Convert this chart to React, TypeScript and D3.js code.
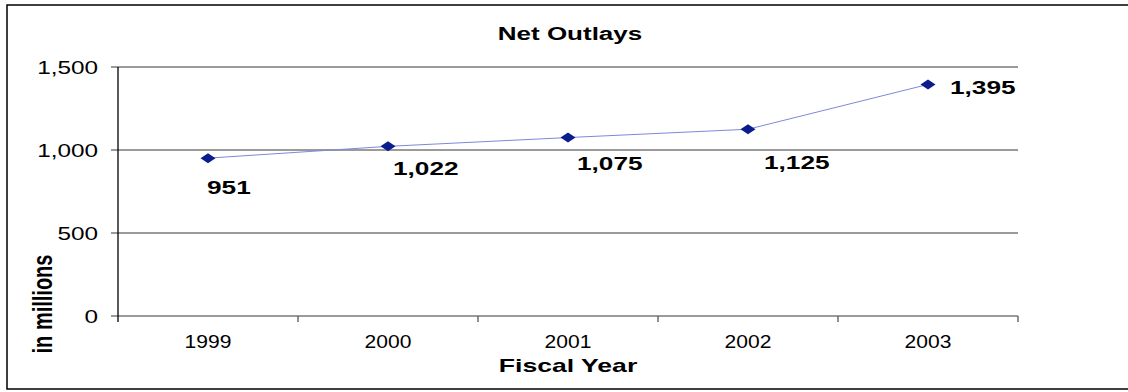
import React from "react";
import * as d3 from "d3";

// Net outlays by fiscal year, in millions
const years = ["1999", "2000", "2001", "2002", "2003"];
const outlays = [951, 1022, 1075, 1125, 1395];
const yTicks = [0, 500, 1000, 1500];

const chartTitle = "Net Outlays";
const xTitle = "Fiscal Year";
const yTitle = "in millions";

// Layout
const W = 1128;
const H = 392;
const plot = { left: 118, right: 1018, top: 67, bottom: 316 };
const FONT = "Arial, 'Liberation Sans', Helvetica, sans-serif";
const markerColor = "#0b1c8c";
const lineColor = "#7f88d8";

// Where each value label sits relative to its marker (dx to left edge, dy to baseline)
const labelOffsets: [number, number][] = [
  [-1, 36],
  [5, 29],
  [9, 32],
  [16, 40],
  [22, 10],
];

type TProps = {
  x: number;
  y: number;
  sx: number;
  size: number;
  bold?: boolean;
  anchor?: "start" | "middle" | "end";
  rotate?: number;
  children: React.ReactNode;
};

// Text drawn with a horizontal stretch around its anchor point
function SText({ x, y, sx, size, bold, anchor = "start", rotate = 0, children }: TProps) {
  return (
    <text
      transform={`translate(${x},${y}) scale(${sx},1) rotate(${rotate})`}
      fontFamily={FONT}
      fontSize={size}
      fontWeight={bold ? "bold" : "normal"}
      textAnchor={anchor}
      fill="#000"
    >
      {children}
    </text>
  );
}

export default function App() {
  const x = d3.scaleBand<string>().domain(years).range([plot.left, plot.right]).padding(0);
  const y = d3.scaleLinear().domain([0, 1500]).range([plot.bottom, plot.top]);
  const cx = (yr: string) => (x(yr) as number) + x.bandwidth() / 2;
  const fmt = d3.format(",");

  const pts = years.map((yr, i) => ({ yr, v: outlays[i] }));
  const line = d3
    .line<{ yr: string; v: number }>()
    .x((d) => cx(d.yr))
    .y((d) => y(d.v));

  const boundaries = years.map((yr) => x(yr) as number).concat([plot.right]);

  return (
    <svg
      width={W}
      height={H}
      style={{ position: "absolute", left: 0, top: 0, background: "#fff" }}
    >
      <rect x={0} y={0} width={W} height={H} fill="#fff" />
      {/* chart frame */}
      <rect x={7} y={5} width={W + 10} height={384} fill="none" stroke="#000" strokeWidth={1.5} />

      <SText x={570} y={40} sx={1.37} size={19} bold anchor="middle">
        {chartTitle}
      </SText>

      {/* horizontal gridlines with their tick marks */}
      {yTicks.map((t) => (
        <line
          key={t}
          x1={plot.left - 7}
          x2={plot.right}
          y1={y(t)}
          y2={y(t)}
          stroke="#7a7a7a"
          strokeWidth={1.3}
        />
      ))}
      {yTicks.map((t) => (
        <SText key={t} x={98} y={y(t) + 7} sx={1.28} size={19} anchor="end">
          {fmt(t)}
        </SText>
      ))}

      {/* y axis */}
      <line x1={plot.left} x2={plot.left} y1={plot.top} y2={plot.bottom + 6} stroke="#000" strokeWidth={1.3} />
      {/* category tick marks */}
      {boundaries.slice(1).map((bx, i) => (
        <line key={i} x1={bx} x2={bx} y1={plot.bottom} y2={plot.bottom + 6} stroke="#555" strokeWidth={1.3} />
      ))}
      {years.map((yr) => (
        <SText key={yr} x={cx(yr)} y={348} sx={1.17} size={18} anchor="middle">
          {yr}
        </SText>
      ))}

      <SText x={568} y={372} sx={1.4} size={19} bold anchor="middle">
        {xTitle}
      </SText>
      <SText x={52} y={304} sx={1.4} size={20} bold anchor="middle" rotate={-90}>
        {yTitle}
      </SText>

      {/* series */}
      <path d={line(pts) || ""} fill="none" stroke={lineColor} strokeWidth={1} />
      {pts.map((d) => {
        const px = cx(d.yr);
        const py = y(d.v);
        return (
          <path
            key={d.yr}
            d={`M${px - 7.5},${py} L${px},${py - 5} L${px + 7.5},${py} L${px},${py + 5} Z`}
            fill={markerColor}
          />
        );
      })}
      {pts.map((d, i) => (
        <SText
          key={d.yr}
          x={cx(d.yr) + labelOffsets[i][0]}
          y={y(d.v) + labelOffsets[i][1]}
          sx={1.38}
          size={19}
          bold
        >
          {fmt(d.v)}
        </SText>
      ))}
    </svg>
  );
}
